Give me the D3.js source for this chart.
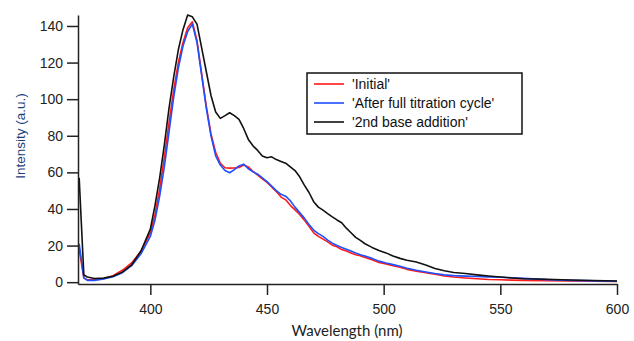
<!DOCTYPE html>
<html>
<head>
<meta charset="utf-8">
<script src="https://cdn.jsdelivr.net/npm/d3@7"></script>
<style>
  body { margin: 0; background: #fff; }
  svg { display: block; }
  .axis path, .axis line { stroke: #222; stroke-width: 1.5; }
  .axis text { font-family: "Liberation Sans", Arial, sans-serif; font-size: 14px; fill: #222; }
</style>
</head>
<body>
<script>
'use strict';
// wavelength (nm), shared by all three spectra
const wavelengths = [369.5, 371.5, 373, 376, 380, 384, 388, 392, 396,
  400, 402, 404, 406, 408, 410, 412, 414, 416, 418, 420,
  422, 424, 426, 428, 430, 432, 434, 436, 438, 440, 442, 444, 446, 448, 450,
  452, 454, 456, 458, 460, 462, 464, 466, 468, 470, 472, 474, 476, 478, 480,
  482, 484, 486, 488, 490, 492, 495, 498, 501, 504, 507, 510, 514, 518, 522,
  526, 530, 535, 540, 545, 550, 555, 560, 570, 580, 590, 600];

const initialValues = [18, 2.2, 1.3, 1.4, 2.0, 3.5, 6.5, 10.5, 17,
  27, 37, 51, 68, 87, 105, 120, 131, 139, 142.3, 132,
  114, 96, 81, 71, 65, 62.5, 62.3, 62.4, 62.7, 64, 63, 60.5, 58.5, 56.5, 54.5,
  52, 49.5, 46.5, 45, 42, 39.5, 37, 33.9, 30.5, 27, 25, 23.5, 22, 20.2, 19.3,
  17.8, 17, 16, 15, 14.4, 13.5, 12.3, 10.8, 10, 9, 8.2, 7, 6, 5.2, 4.3,
  3.4, 2.8, 2.3, 1.9, 1.5, 1.3, 1.1, 1, 0.8, 0.6, 0.5, 0.4];

const afterCycleValues = [21, 2.5, 1.0, 1.0, 1.8, 3.0, 5.2, 9.0, 15.5,
  25, 34, 47, 63, 82, 101, 117, 129, 137, 141, 131,
  113, 95, 80, 69, 64, 61, 59.8, 61.5, 63.5, 64.5, 62, 60.3, 59, 57, 55,
  52.5, 50, 48, 47, 44.5, 41, 38, 35, 31.5, 28.5, 26.5, 25, 23, 21.3, 20,
  19, 18, 17, 16, 15, 14.3, 13, 11.5, 10.5, 9.6, 8.7, 7.6, 6.5, 5.6, 4.7,
  4.0, 3.6, 3.3, 3.1, 2.9, 2.7, 2.4, 2.1, 1.4, 1.0, 0.7, 0.5];

const secondBaseValues = [57, 4, 2.8, 2.0, 2.2, 3.2, 5.5, 9.5, 17,
  29, 42, 57, 75, 95, 112, 127, 138, 146, 145, 141,
  128, 115, 102, 93, 89.5, 91, 92.6, 91, 89, 84, 78, 74.5, 72, 69, 68,
  68.5, 67, 66, 65, 63, 61, 57.6, 53, 49, 44, 41, 39.4, 37.5, 35.7, 34,
  32.5, 29.5, 27, 24.5, 22.8, 21, 19, 17.3, 16, 14.3, 13, 12, 11, 9.4, 7.5,
  6.2, 5.3, 4.7, 4, 3.4, 2.8, 2.3, 1.9, 1.6, 1.2, 0.9, 0.6];

const seriesNames = ["'Initial'", "'After full titration cycle'", "'2nd base addition'"];
const seriesColors = ['#ff1a1a', '#1f4fff', '#111111'];
const xTicks = [400, 450, 500, 550, 600];
const yTicks = [0, 20, 40, 60, 80, 100, 120, 140];

const svg = d3.select(document.body).append('svg')
  .attr('width', 634).attr('height', 341);

const xScale = d3.scaleLinear().domain([369, 600]).range([78, 617]);
const yScale = d3.scaleLinear().domain([-1, 146]).range([284, 15]);

drawLines(svg);
drawAxes(svg);
drawLegend(svg);

function drawLines(object){
  const seriesList = [initialValues, afterCycleValues, secondBaseValues];
  const line = d3.line()
    .x(function(d, i){ return xScale(wavelengths[i]); })
    .y(function(d){ return yScale(d); });
  object.append('g')
    .selectAll('path')
    .data(seriesList)
    .enter()
    .append('path')
    .attr('d', function(d){ return line(d); })
    .attr('fill', 'none')
    .attr('stroke', function(d, i){ return seriesColors[i]; })
    .attr('stroke-width', 1.6)
    .attr('stroke-linejoin', 'round');
}

function drawAxes(object){
  const yAxis = d3.axisLeft(yScale).tickValues(yTicks).tickSize(11).tickPadding(4).tickSizeOuter(0);
  object.append('g')
    .attr('class', 'axis')
    .attr('transform', 'translate(78, 0)')
    .call(yAxis);

  const xAxis = d3.axisBottom(xScale).tickValues(xTicks).tickSize(11).tickPadding(9).tickSizeOuter(0);
  object.append('g')
    .attr('class', 'axis')
    .attr('transform', 'translate(0, 284)')
    .call(xAxis);

  object.append('text')
    .attr('x', 347).attr('y', 336)
    .attr('text-anchor', 'middle')
    .attr('font-family', 'Lato, "Open Sans", sans-serif')
    .attr('font-size', 15)
    .attr('fill', '#222')
    .text('Wavelength (nm)');

  object.append('text')
    .attr('transform', 'translate(25, 136) rotate(-90)')
    .attr('text-anchor', 'middle')
    .attr('font-family', '"Liberation Sans", Arial, sans-serif')
    .attr('font-size', 13.5)
    .attr('fill', '#1c3f7c')
    .text('Intensity (a.u.)');
}

function drawLegend(object){
  const g = object.append('g').attr('transform', 'translate(307, 73)');
  g.append('rect')
    .attr('width', 215).attr('height', 61)
    .attr('fill', '#fff')
    .attr('stroke', '#111')
    .attr('stroke-width', 1.5);
  const rows = g.selectAll('g.row')
    .data(seriesNames)
    .enter()
    .append('g')
    .attr('class', 'row')
    .attr('transform', function(d, i){ return 'translate(0,' + (11 + i * 19) + ')'; });
  rows.append('line')
    .attr('x1', 7).attr('x2', 37)
    .attr('stroke', function(d, i){ return seriesColors[i]; })
    .attr('stroke-width', 1.6);
  rows.append('text')
    .attr('x', 45).attr('dy', '0.35em')
    .attr('font-family', '"Liberation Sans", Arial, sans-serif')
    .attr('font-size', 14)
    .attr('fill', '#111')
    .text(function(d){ return d; });
}
</script>
</body>
</html>
